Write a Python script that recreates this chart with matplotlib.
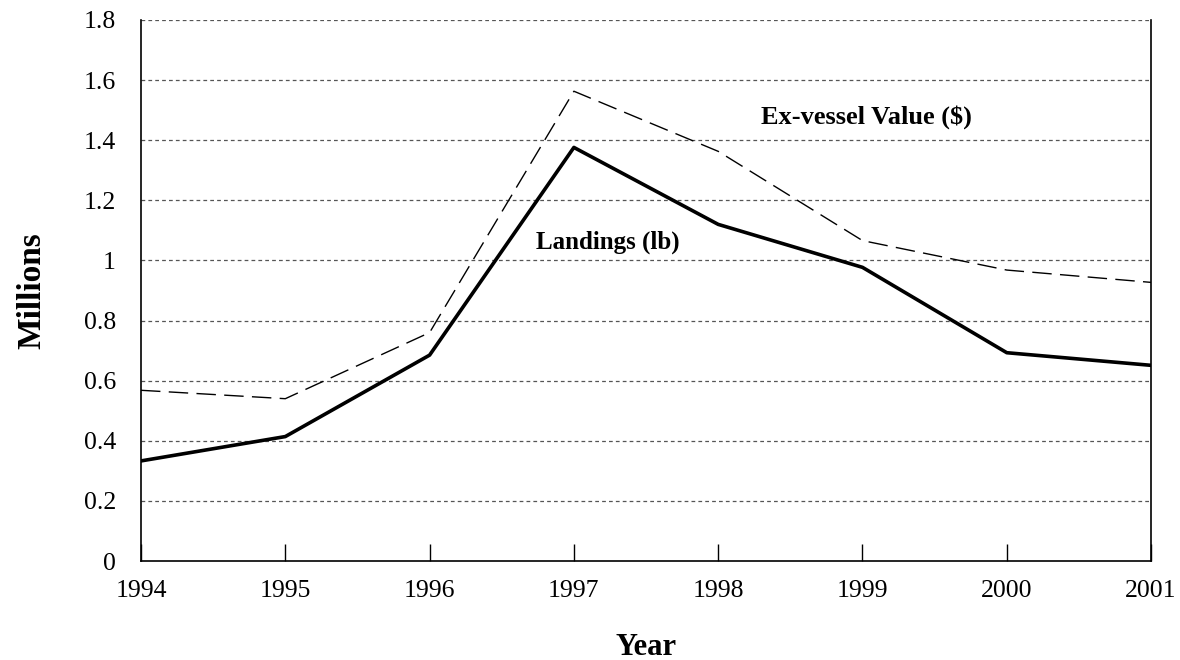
import numpy as np
import matplotlib.pyplot as plt

plt.rcParams['font.family'] = ['Liberation Serif', 'DejaVu Serif']

years = [1994, 1995, 1996, 1997, 1998, 1999, 2000, 2001]
landings = [0.333, 0.414, 0.685, 1.376, 1.12, 0.977, 0.693, 0.651]
exvessel = [0.568, 0.540, 0.760, 1.563, 1.363, 1.066, 0.968, 0.927]
yticks = [0, 0.2, 0.4, 0.6, 0.8, 1.0, 1.2, 1.4, 1.6, 1.8]
ylabels = ['0', '0.2', '0.4', '0.6', '0.8', '1', '1.2', '1.4', '1.6', '1.8']

fig = plt.figure(figsize=(11.8, 6.6), dpi=100)
ax = fig.add_axes([0.1195, 0.15, 0.856, 0.8197])

for y in yticks[1:]:
    ax.axhline(y, color='#555555', lw=0.9, ls=(0, (3, 2.5)), zorder=1)

ax.plot(years, exvessel, color='black', lw=1.0, ls=(0, (14, 6)), zorder=3)
ax.plot(years, landings, color='black', lw=2.6, zorder=4)

ax.set_xlim(1994, 2001)
ax.set_ylim(0, 1.8)
ax.set_xticks(years)
ax.set_xticklabels([str(y) for y in years], fontsize=18.5)
ax.set_yticks(yticks)
ax.set_yticklabels(ylabels, fontsize=18.5)
ax.tick_params(axis='x', direction='in', length=12, width=1, pad=14)
ax.tick_params(axis='y', length=0, pad=18)

ax.spines['top'].set_visible(False)
for s in ['left', 'bottom', 'right']:
    ax.spines[s].set_linewidth(1.2)

ax.text(1998.30, 1.477, 'Ex-vessel Value ($)', fontsize=19, fontweight='bold', va='center')
ax.text(1996.74, 1.06, 'Landings (lb)', fontsize=18, fontweight='bold', va='center')

ax.set_ylabel('Millions', fontsize=24, fontweight='bold', labelpad=26)
ax.set_xlabel('Year', fontsize=22, fontweight='bold', labelpad=22)

fig.savefig('out.png', dpi=100)
